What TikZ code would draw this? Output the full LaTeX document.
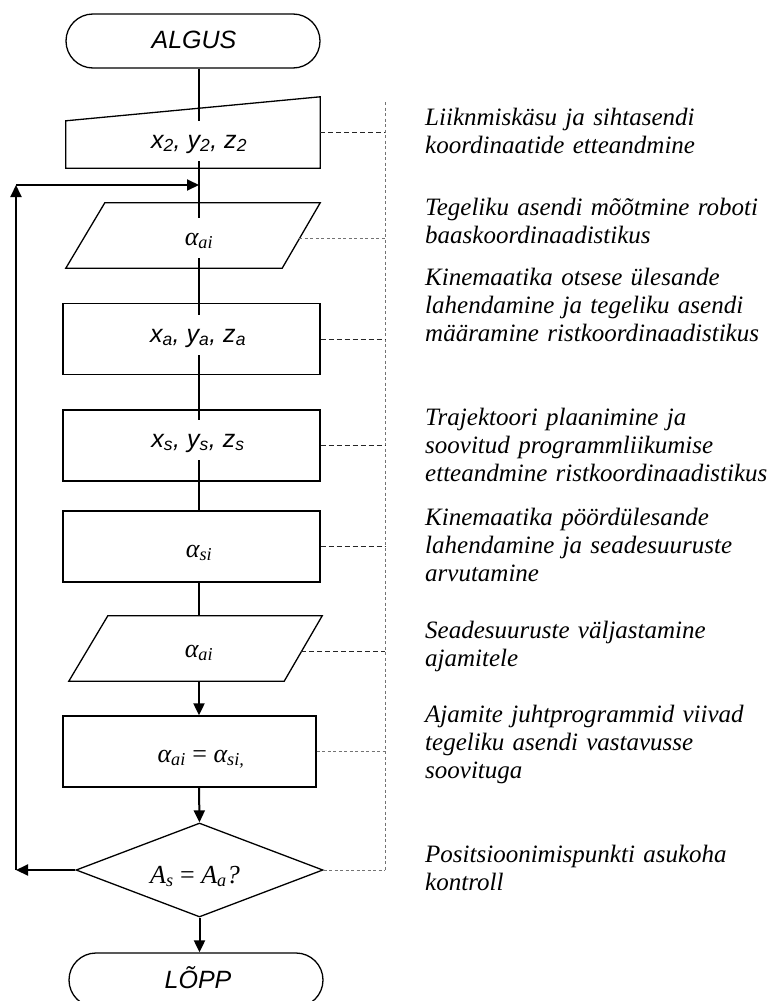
\documentclass[tikz,border=0pt]{standalone}
\usepackage{fontspec}
\setmainfont{Liberation Serif}
\setsansfont{Liberation Sans}
\usepackage{tikz}
\usetikzlibrary{positioning}
\usetikzlibrary{calc,arrows.meta}
\usetikzlibrary{shapes.geometric}

\newcommand{\boxtxt}{\sffamily\itshape\fontsize{25}{28}\selectfont}
\newcommand{\mathtxt}{\rmfamily\itshape\fontsize{26}{30}\selectfont}
\newcommand{\notetxt}{\rmfamily\itshape\fontsize{25}{28}\selectfont}

\tikzset{
	term/.style={draw, line width=1.3pt, rounded corners=27pt, minimum width=254pt, minimum height=54pt, inner sep=0pt},
	blk/.style={draw, line width=1.3pt, minimum width=257pt, minimum height=71pt, inner sep=0pt},
	frame/.style={inner sep=0pt, minimum width=254pt},
	dec/.style={draw, diamond, line width=1.3pt, minimum width=247pt, minimum height=94pt, inner sep=0pt},
	lbl/.style={anchor=base, fill=white, text height=21pt, text depth=7pt, inner xsep=4pt, inner ysep=6pt},
	note/.style={anchor=base west, align=left, text width=400pt, inner sep=0pt, font=\notetxt},
	flow/.style={line width=2pt},
	arr/.style={flow, -{Triangle[length=12pt,width=11pt]}},
	guide/.style={black!55, line width=1pt, dash pattern=on 3pt off 2.5pt},
	leader/.style={black!85, line width=1pt, dash pattern=on 5pt off 3pt},
}

\begin{document}
\begin{tikzpicture}[x=1pt, y=-1pt]
	\useasboundingbox (0,0) rectangle (766,1001);
	
	% the main flow runs down this vertical
	\coordinate (axis) at (199,0);
	
	% start and end
	\node[term] (algus) at (193,41) {};
	\node[term] (lopp) at (196,980) {};
	
	% target pose input, slanted top
	\node[frame, minimum height=71pt] (inp) at (193,132.5) {};
	\draw[line width=1.3pt] (inp.south west) -- (inp.south east) -- (inp.north east) -- ([yshift=-24pt]inp.north west) -- cycle;
	
	% measured joint values (parallelograms)
	\node[frame, minimum height=65pt] (p1) at (193,235.5) {};
	\draw[line width=1.3pt] (p1.south west) -- ([xshift=-38pt]p1.south east) -- (p1.north east) -- ([xshift=39pt]p1.north west) -- cycle;
	\node[frame, minimum width=253pt, minimum height=65pt] (p2) at (195.5,648.5) {};
	\draw[line width=1.3pt] (p2.south west) -- ([xshift=-38pt]p2.south east) -- (p2.north east) -- ([xshift=39pt]p2.north west) -- cycle;
	
	% processing blocks
	\node[blk] (xa) at (191.5,339) {};
	\node[blk] (xs) at (191.5,445.5) {};
	\node[blk] (asi) at (191.5,546.5) {};
	\node[blk, minimum width=253pt] (eq) at (189.5,751.5) {};
	
	% position check
	\node[dec] (dia) at (199.5,870) {};
	
	%%%%%%%%%%%%%%%%%%%%%%%%%%%%%%%%%%%%%%%%%%%%%%%%%%%%%%%%%%%%%%
	% flow lines, the first one runs through the boxes
	\draw[flow] (algus.south -| axis) -- (xs.south -| axis);
	\draw[flow] (xs.south -| axis) -- (asi.north -| axis);
	\draw[flow] (asi.south -| axis) -- (p2.north -| axis);
	\draw[arr] (p2.south -| axis) -- (eq.north -| axis);
	\draw[arr] (eq.south -| axis) -- (dia.north);
	\draw[arr] (dia.south) -- (dia.south |- lopp.north);
	
	% loop back to the measurement
	\coordinate (lb) at (16,870);
	\coordinate (lt) at (16,185);
	\draw[arr] (dia.west) -- (lb);
	\draw[arr] (lb) -- (lt);
	\draw[arr] (lt) -- (lt -| axis);
	
	%%%%%%%%%%%%%%%%%%%%%%%%%%%%%%%%%%%%%%%%%%%%%%%%%%%%%%%%%%%%%%
	% texts in the shapes
	\node[lbl, font=\boxtxt] (t-algus) at (194,48) {ALGUS};
	\node[lbl, font=\boxtxt] (t-inp) at (199,148) {x\textsubscript{2}, y\textsubscript{2}, z\textsubscript{2}};
	\node[lbl, font=\mathtxt] (t-p1) at (199,245) {α\textsubscript{ai}};
	\node[lbl, font=\boxtxt] (t-xa) at (198,342) {x\textsubscript{a}, y\textsubscript{a}, z\textsubscript{a}};
	\node[lbl, font=\boxtxt] (t-xs) at (198,447) {x\textsubscript{s}, y\textsubscript{s}, z\textsubscript{s}};
	\node[lbl, font=\mathtxt] (t-asi) at (199,557) {α\textsubscript{si}};
	\node[lbl, font=\mathtxt] (t-p2) at (199,657) {α\textsubscript{ai}};
	\node[lbl, font=\mathtxt] (t-eq) at (201,762) {α\textsubscript{ai} {\upshape =} α\textsubscript{si,}};
	\node[lbl, font=\mathtxt] (t-dia) at (195,883) {A\textsubscript{s} {\upshape =} A\textsubscript{a}?};
	\node[lbl, font=\boxtxt] (t-lopp) at (198,988) {LÕPP};
	
	%%%%%%%%%%%%%%%%%%%%%%%%%%%%%%%%%%%%%%%%%%%%%%%%%%%%%%%%%%%%%%
	% dashed leaders to the notes
	\coordinate (gt) at (385,102);
	\coordinate (gb) at (385,870);
	\draw[guide] (gt) -- (gb);
	
	\coordinate (p1r) at ($(p1.north east)!0.55!([xshift=-38pt]p1.south east)$);
	\coordinate (p2r) at ($(p2.north east)!0.55!([xshift=-38pt]p2.south east)$);
	
	\draw[leader] (inp.east) -- (inp.east -| gt);
	\draw[guide] (p1r) -- (p1r -| gt);
	\draw[leader] (xa.east) -- (xa.east -| gt);
	\draw[leader] (xs.east) -- (xs.east -| gt);
	\draw[leader] (asi.east) -- (asi.east -| gt);
	\draw[leader] (p2r) -- (p2r -| gt);
	\draw[guide] (eq.east) -- (eq.east -| gt);
	\draw[guide] (dia.east) -- (dia.east -| gt);
	
	% notes
	\node[note] (n-inp) at (425,125) {Liiknmiskäsu ja sihtasendi\\koordinaatide etteandmine};
	\node[note] (n-p1) at (425,215) {Tegeliku asendi mõõtmine roboti\\baaskoordinaadistikus};
	\node[note] (n-xa) at (425,285) {Kinemaatika otsese ülesande\\lahendamine ja tegeliku asendi\\määramine ristkoordinaadistikus};
	\node[note] (n-xs) at (425,425) {Trajektoori plaanimine ja\\soovitud programmliikumise\\etteandmine ristkoordinaadistikus};
	\node[note] (n-asi) at (425,525) {Kinemaatika pöördülesande\\lahendamine ja seadesuuruste\\arvutamine};
	\node[note] (n-p2) at (425,638) {Seadesuuruste väljastamine\\ajamitele};
	\node[note] (n-eq) at (425,722) {Ajamite juhtprogrammid viivad\\tegeliku asendi vastavusse\\soovituga};
	\node[note] (n-dia) at (425,862) {Positsioonimispunkti asukoha\\kontroll};
	
\end{tikzpicture}
\end{document}
